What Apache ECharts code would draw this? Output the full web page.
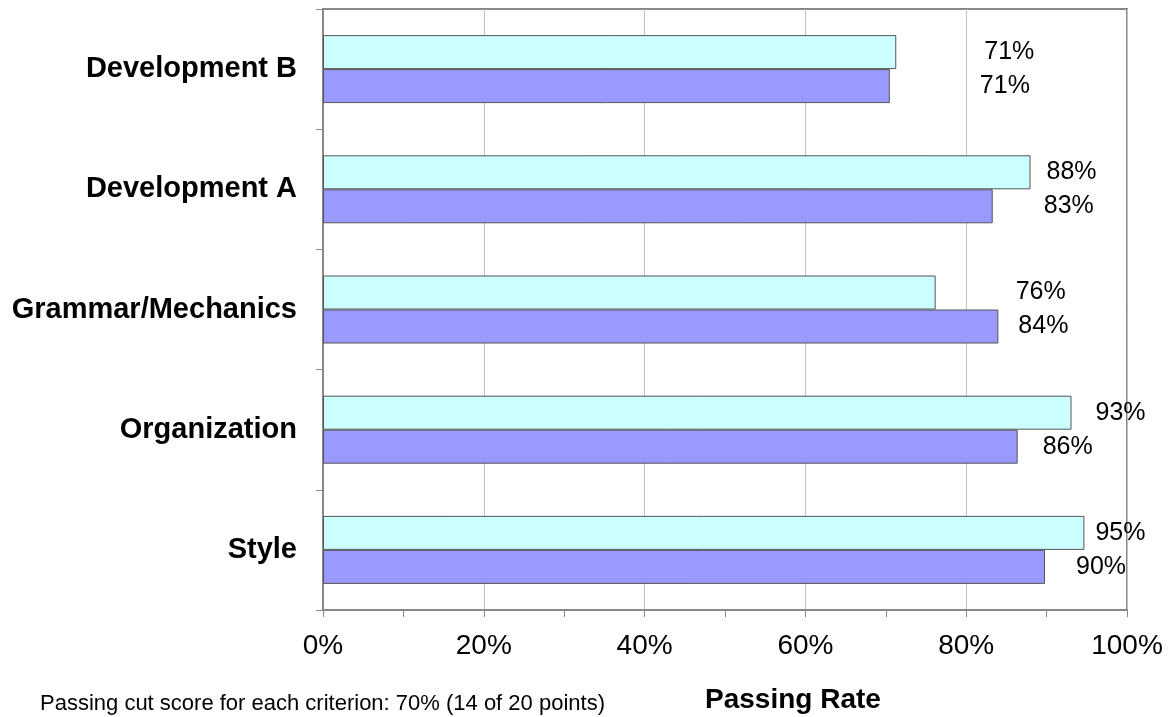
<!DOCTYPE html>
<html>
<head>
<meta charset="utf-8">
<script src="https://cdn.jsdelivr.net/npm/echarts@6/dist/echarts.min.js"></script>
<style>
  html, body {margin: 0; padding: 0; background: #fff;}
  #chart {width: 1172px; height: 717px;}
</style>
</head>
<body>
<div id="chart"></div>
<script>
  // categories top to bottom
  var categories = ["Development B", "Development A", "Grammar/Mechanics", "Organization", "Style"];
  var upperRates = [71.3, 88.0, 76.2, 93.1, 94.7];   // cyan bars
  var lowerRates = [70.5, 83.3, 84.0, 86.4, 89.8];   // purple bars
  var xTicks = [0, 20, 40, 60, 80, 100];

  // label gaps after the bar end, as placed in the original
  var upperGap = [88, 16, 80, 24, 11], lowerGap = [90, 51, 20, 25, 31];

  var font = "Liberation Sans, Arial, sans-serif", gray = "#888";

  function items(vals, gaps){
    return vals.map(function(v, i){
      return {value: v, label: {distance: gaps[i]}};
    });
  }

  function makeSeries(vals, gaps, color){
    return {
      type: "bar",
      barWidth: 34,
      barGap: "0%",
      itemStyle: {color: color, borderColor: "#555", borderWidth: 1},
      label: {
        show: true,
        position: "right",
        color: "#000",
        fontFamily: font,
        fontSize: 25,
        formatter: function(p){ return Math.round(p.value) + "%"; }
      },
      data: items(vals, gaps)
    };
  }

  var chartDom = echarts.init(document.getElementById("chart"));
  chartDom.setOption({
    animation: false,
    title: [
      {
        text: "Passing cut score for each criterion: 70% (14 of 20 points)",
        left: 40, top: 693, padding: 0,
        textStyle: {fontFamily: font, fontSize: 22, fontWeight: "normal", color: "#000"}
      },
      {
        text: "Passing Rate",
        left: 705, top: 686, padding: 0,
        textStyle: {fontFamily: font, fontSize: 28, fontWeight: "bold", color: "#000"}
      }
    ],
    grid: {
      left: 323, right: 45, top: 9, bottom: 107,
      show: true, borderColor: gray, borderWidth: 2, backgroundColor: "#fff"
    },
    xAxis: {
      type: "value",
      min: xTicks[0], max: xTicks[xTicks.length - 1], interval: 20,
      axisLine: {show: true, lineStyle: {color: gray, width: 2}},
      axisTick: {show: true, length: 7, lineStyle: {color: gray}},
      minorTick: {show: true, splitNumber: 2, length: 7, lineStyle: {color: gray}},
      splitLine: {show: true, lineStyle: {color: "#c0c0c0", width: 1}},
      axisLabel: {
        margin: 22, color: "#000", fontFamily: font, fontSize: 28,
        formatter: "{value}%"
      }
    },
    yAxis: {
      type: "category",
      inverse: true,
      data: categories,
      axisLine: {show: true, lineStyle: {color: gray, width: 2}},
      axisTick: {show: true, length: 7, lineStyle: {color: gray}},
      axisLabel: {
        margin: 26, color: "#000", fontFamily: font, fontSize: 29, fontWeight: "bold"
      }
    },
    series: [
      makeSeries(upperRates, upperGap, "#ccffff"),
      makeSeries(lowerRates, lowerGap, "#9999ff")
    ]
  });
</script>
</body>
</html>
